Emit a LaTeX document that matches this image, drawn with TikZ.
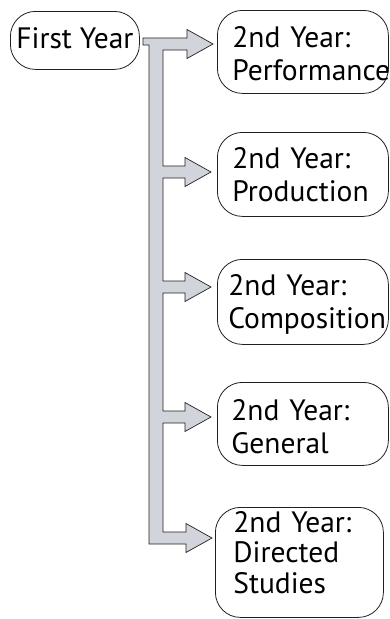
\documentclass[tikz,border=0pt]{standalone}
\usepackage{fontspec}
\setmainfont{PT Sans}
\definecolor{arrowfill}{RGB}{210,212,220}
\definecolor{inkline}{RGB}{35,31,32}
\newcommand{\yfont}{\fontsize{29.5}{33.5}\selectfont}
\newcommand{\yfontd}{\fontsize{29.5}{30.5}\selectfont}
\begin{document}
\begin{tikzpicture}[x=1pt,y=-1pt,
  yearbox/.style={draw=inkline, line width=0.8pt, rounded corners=25pt,
    inner ysep=0pt, align=left, anchor=north west, font=\yfont},
  firstbox/.style={draw=inkline, line width=0.8pt, rounded corners=25pt,
    inner ysep=0pt, inner xsep=0pt, minimum width=129pt, align=center,
    anchor=north west, font=\yfont},
  blockarrow/.style={fill=arrowfill, draw=inkline, line width=0.7pt, line join=miter}]
\useasboundingbox (0,0) rectangle (390,619);
\node[firstbox, text height=37pt, text depth=21pt] (first) at (10,11) {First Year};
\node[yearbox, inner xsep=15pt, text width=141pt, text height=37pt, text depth=46pt] (perf) at (217,10) {2nd Year:\\Performance};
\node[yearbox, inner xsep=15pt, text width=141pt, text height=36pt, text depth=48pt] (prod) at (217,132) {2nd Year:\\Production};
\node[yearbox, inner xsep=11pt, text width=149pt, text height=36pt, text depth=49pt] (comp) at (217,259) {2nd Year:\\Composition};
\node[yearbox, inner xsep=14pt, text width=143pt, text height=38pt, text depth=45pt] (gen) at (217,382) {2nd Year:\\General};
\node[yearbox, inner xsep=18pt, text width=132pt, text height=25pt, text depth=85pt, font=\yfontd] (dir) at (215,507) {2nd Year:\\Directed\\Studies};
\draw[blockarrow]
  (143,38) -- (187,38) -- (187,29.5) -- (213,44) -- (187,58.5) -- (187,50) -- (163,50)
  -- (163,166) -- (185,166) -- (185,157.5) -- (211,172) -- (185,186.5) -- (185,178) -- (163,178)
  -- (163,281) -- (185,281) -- (185,272.5) -- (211,287) -- (185,301.5) -- (185,293) -- (163,293)
  -- (163,411) -- (185,411) -- (185,402.5) -- (211,417) -- (185,431.5) -- (185,423) -- (163,423)
  -- (163,532) -- (186,532) -- (186,523.5) -- (212,538) -- (186,552.5) -- (186,544) -- (149,544)
  -- (149,45) -- (143,45) -- cycle;
\end{tikzpicture}
\end{document}
